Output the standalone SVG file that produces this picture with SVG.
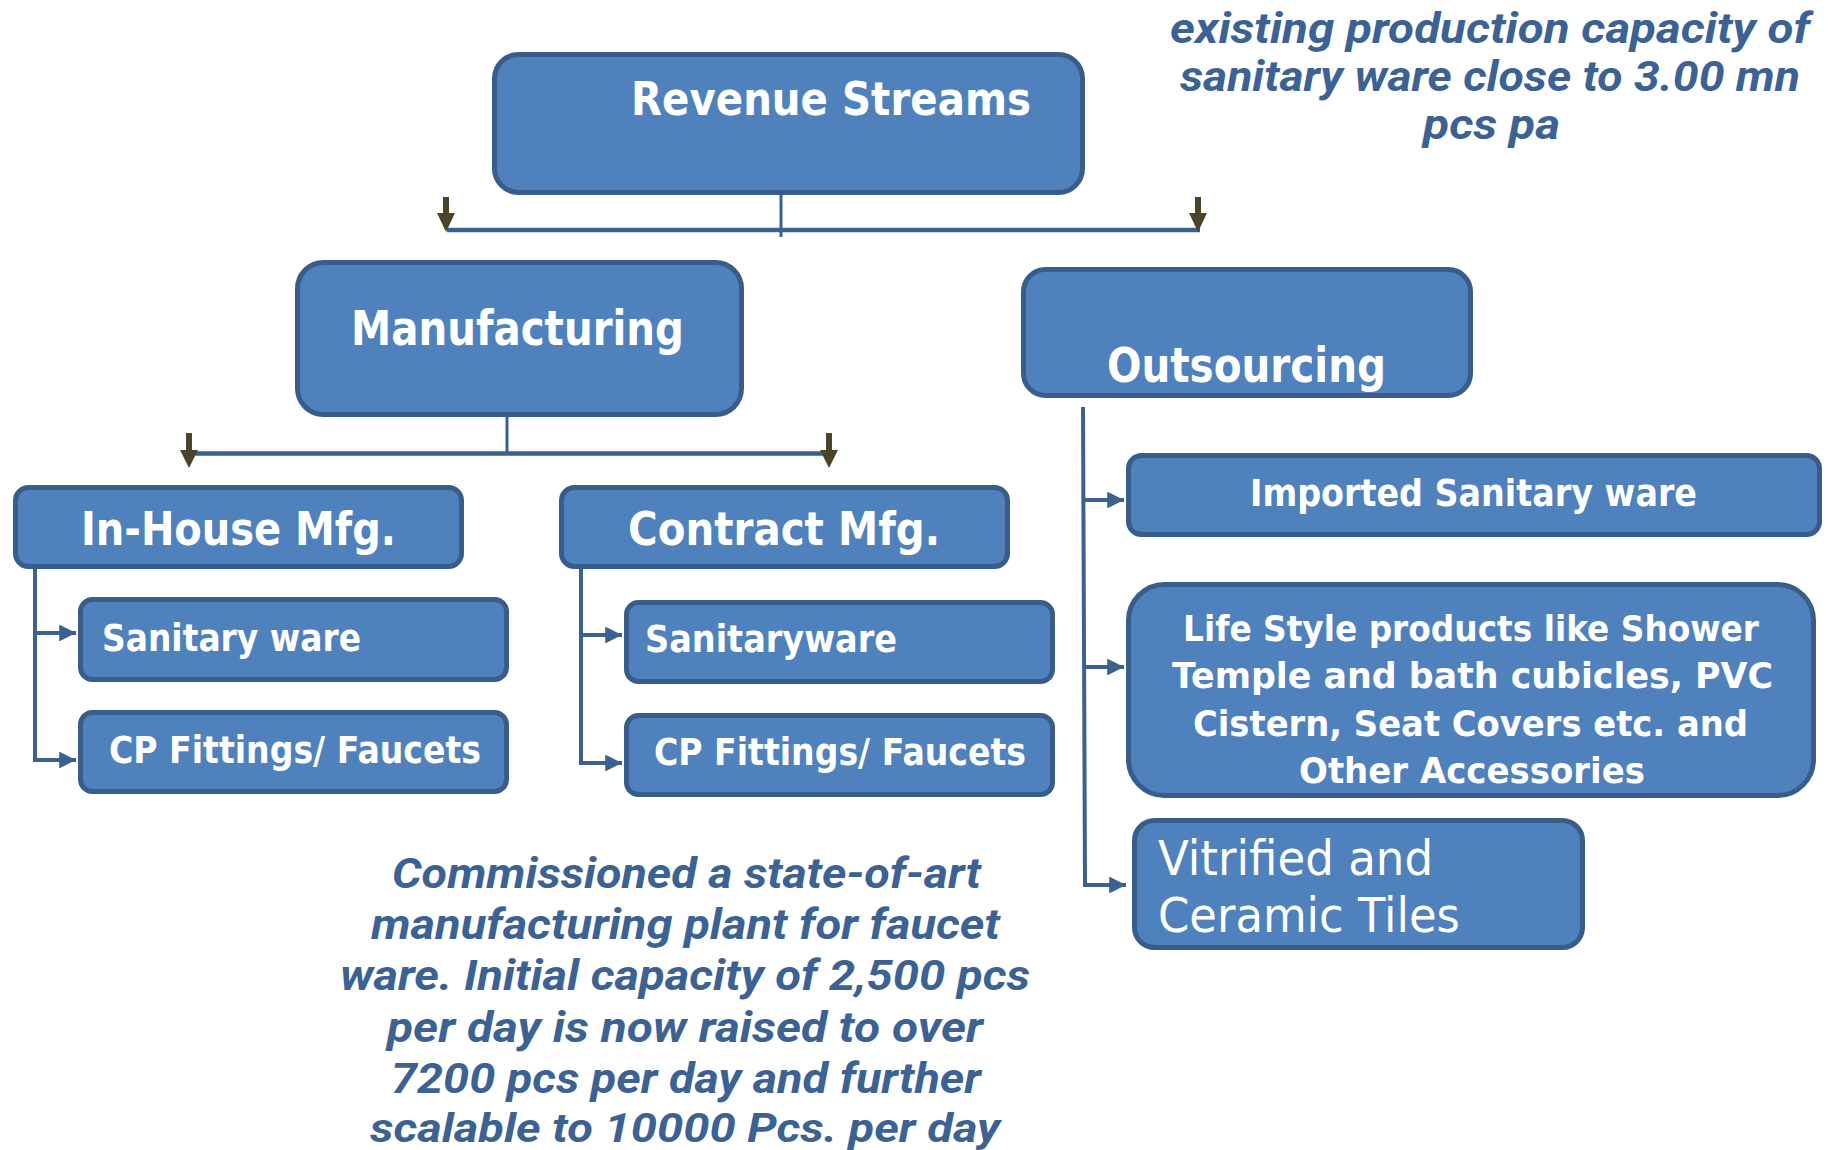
<svg xmlns="http://www.w3.org/2000/svg" width="1829" height="1150" viewBox="0 0 1829 1150">
  <defs>
    <style>
      .box { fill: #4f81bd; stroke: #385d8a; stroke-width: 5; }
      .lbl { font-family: "DejaVu Sans", "Liberation Sans", sans-serif; font-weight: bold; fill: #ffffff; }
      .thin { font-family: "DejaVu Sans", "Liberation Sans", sans-serif; font-weight: normal; fill: #ffffff; }
      .note { font-family: Roboto, "DejaVu Sans", sans-serif; font-weight: bold; font-style: italic; fill: #3b6293; }
      .wire { fill: none; stroke: #3a6190; stroke-linecap: butt; }
      .drop { fill: #4b4429; }
    </style>
    <marker id="tip" viewBox="0 0 10 10" refX="10" refY="5" markerWidth="4.2" markerHeight="4.2" orient="auto" markerUnits="strokeWidth">
      <path d="M0,0 L10,5 L0,10 Z" fill="#3a6190"/>
    </marker>
  </defs>

  <!-- connectors -->
  <g id="connectors">
    <!-- Revenue Streams fan-out -->
    <line class="wire" x1="781" y1="182" x2="781" y2="237" stroke-width="3"/>
    <line class="wire" x1="447" y1="230" x2="1200" y2="230" stroke-width="4.5"/>
    <path class="drop" d="M443,197 H449 V213 H455 L446,232 L437,213 H443 Z"/>
    <path class="drop" d="M1195,197 H1201 V213 H1207 L1198,232 L1189,213 H1195 Z"/>

    <!-- Manufacturing fan-out -->
    <line class="wire" x1="507" y1="417" x2="507" y2="454" stroke-width="3"/>
    <line class="wire" x1="190" y1="453.5" x2="830" y2="453.5" stroke-width="4.5"/>
    <path class="drop" d="M186,433 H192 V450 H198 L189,468 L180,450 H186 Z"/>
    <path class="drop" d="M826,433 H832 V450 H838 L829,468 L820,450 H826 Z"/>

    <!-- In-House branch -->
    <path class="wire" d="M35,568 V760 H76" stroke-width="4" marker-end="url(#tip)"/>
    <path class="wire" d="M35,633 H76" stroke-width="4" marker-end="url(#tip)"/>

    <!-- Contract branch -->
    <path class="wire" d="M581,568 V763 H622" stroke-width="4" marker-end="url(#tip)"/>
    <path class="wire" d="M581,635 H622" stroke-width="4" marker-end="url(#tip)"/>

    <!-- Outsourcing branch -->
    <path class="wire" d="M1083,407 L1085,885 H1126" stroke-width="4" marker-end="url(#tip)"/>
    <path class="wire" d="M1084,500 H1124" stroke-width="4" marker-end="url(#tip)"/>
    <path class="wire" d="M1084,667 H1124" stroke-width="4" marker-end="url(#tip)"/>
  </g>

  <g id="revenue-streams">
    <rect class="box" x="494.5" y="54.5" width="588" height="138" rx="24"/>
    <text class="lbl" x="631" y="115" font-size="46" textLength="400" lengthAdjust="spacingAndGlyphs">Revenue Streams</text>
  </g>

  <g id="manufacturing">
    <rect class="box" x="297.5" y="262.5" width="444" height="152" rx="26"/>
    <text class="lbl" x="351" y="345" font-size="48" textLength="333" lengthAdjust="spacingAndGlyphs">Manufacturing</text>
  </g>

  <g id="outsourcing">
    <rect class="box" x="1023.5" y="269.5" width="447" height="126" rx="22"/>
    <text class="lbl" x="1107" y="382" font-size="48" textLength="279" lengthAdjust="spacingAndGlyphs">Outsourcing</text>
  </g>

  <g id="in-house-mfg">
    <rect class="box" x="15.5" y="487.5" width="446" height="79" rx="13"/>
    <text class="lbl" x="81" y="545" font-size="46" textLength="315" lengthAdjust="spacingAndGlyphs">In-House Mfg.</text>
  </g>

  <g id="contract-mfg">
    <rect class="box" x="561.5" y="487.5" width="446" height="79" rx="13"/>
    <text class="lbl" x="628" y="545" font-size="46" textLength="312" lengthAdjust="spacingAndGlyphs">Contract Mfg.</text>
  </g>

  <g id="inhouse-sanitary-ware">
    <rect class="box" x="80.5" y="599.5" width="426" height="80" rx="12"/>
    <text class="lbl" x="102" y="651" font-size="37" textLength="259" lengthAdjust="spacingAndGlyphs">Sanitary ware</text>
  </g>

  <g id="inhouse-cp-fittings">
    <rect class="box" x="80.5" y="712.5" width="426" height="79" rx="12"/>
    <text class="lbl" x="109" y="763" font-size="37" textLength="372" lengthAdjust="spacingAndGlyphs">CP Fittings/ Faucets</text>
  </g>

  <g id="contract-sanitaryware">
    <rect class="box" x="626.5" y="602.5" width="426" height="79" rx="12"/>
    <text class="lbl" x="645" y="652" font-size="37" textLength="252" lengthAdjust="spacingAndGlyphs">Sanitaryware</text>
  </g>

  <g id="contract-cp-fittings">
    <rect class="box" x="626.5" y="715.5" width="426" height="79" rx="12"/>
    <text class="lbl" x="654" y="765" font-size="37" textLength="372" lengthAdjust="spacingAndGlyphs">CP Fittings/ Faucets</text>
  </g>

  <g id="imported-sanitary-ware">
    <rect class="box" x="1128.5" y="455.5" width="691" height="79" rx="13"/>
    <text class="lbl" x="1250" y="506" font-size="38" textLength="447" lengthAdjust="spacingAndGlyphs">Imported Sanitary ware</text>
  </g>

  <g id="life-style-products">
    <rect class="box" x="1128.5" y="584.5" width="685" height="211" rx="36"/>
    <text class="lbl" font-size="36" x="1183" y="641" textLength="576" lengthAdjust="spacingAndGlyphs">Life Style products like Shower</text>
    <text class="lbl" font-size="36" x="1172" y="688" textLength="601" lengthAdjust="spacingAndGlyphs">Temple and bath cubicles, PVC</text>
    <text class="lbl" font-size="36" x="1193" y="736" textLength="555" lengthAdjust="spacingAndGlyphs">Cistern, Seat Covers etc. and</text>
    <text class="lbl" font-size="36" x="1299" y="783" textLength="346" lengthAdjust="spacingAndGlyphs">Other Accessories</text>
  </g>

  <g id="vitrified-ceramic-tiles">
    <rect class="box" x="1134.5" y="820.5" width="448" height="127" rx="20"/>
    <text class="thin" x="1158" y="875" font-size="48" textLength="275" lengthAdjust="spacingAndGlyphs">Vitrified and</text>
    <text class="thin" x="1158" y="932" font-size="48" textLength="302" lengthAdjust="spacingAndGlyphs">Ceramic Tiles</text>
  </g>

  <!-- capacity notes -->
  <g id="note-capacity">
    <text class="note" x="1170" y="43" font-size="42" textLength="640" lengthAdjust="spacingAndGlyphs">existing production capacity of</text>
    <text class="note" x="1180" y="91" font-size="42" textLength="620" lengthAdjust="spacingAndGlyphs">sanitary ware close to 3.00 mn</text>
    <text class="note" x="1423" y="139" font-size="42" textLength="137" lengthAdjust="spacingAndGlyphs">pcs pa</text>
  </g>

  <g id="note-faucet-plant">
    <text class="note" x="392" y="888" font-size="42" textLength="589" lengthAdjust="spacingAndGlyphs">Commissioned a state-of-art</text>
    <text class="note" x="371" y="939" font-size="42" textLength="629" lengthAdjust="spacingAndGlyphs">manufacturing plant for faucet</text>
    <text class="note" x="340" y="990" font-size="42" textLength="690" lengthAdjust="spacingAndGlyphs">ware. Initial capacity of 2,500 pcs</text>
    <text class="note" x="387" y="1042" font-size="42" textLength="596" lengthAdjust="spacingAndGlyphs">per day is now raised to over</text>
    <text class="note" x="391" y="1093" font-size="42" textLength="590" lengthAdjust="spacingAndGlyphs">7200 pcs per day and further</text>
    <text class="note" x="370" y="1142" font-size="41" textLength="630" lengthAdjust="spacingAndGlyphs">scalable to 10000 Pcs. per day</text>
  </g>
</svg>
